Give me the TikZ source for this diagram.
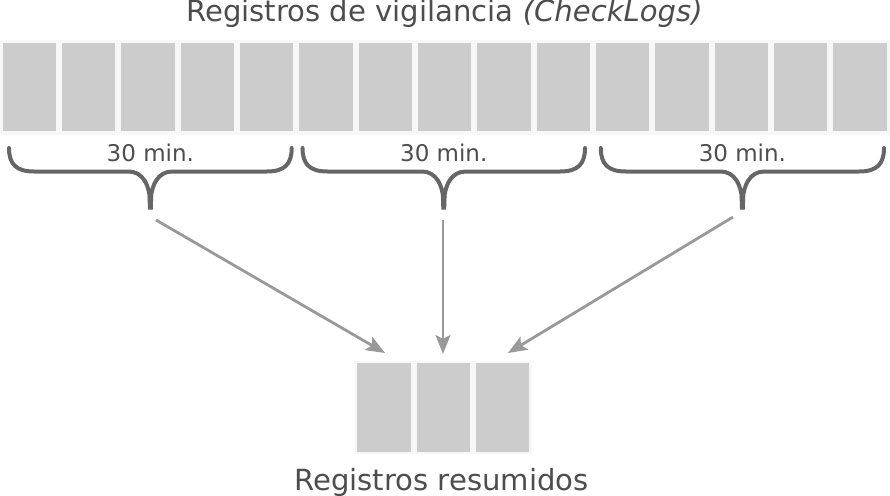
\documentclass[tikz,border=0pt]{standalone}
\usepackage{fontspec}
\setmainfont{DejaVu Sans}
\usetikzlibrary{arrows.meta}
\definecolor{txt}{HTML}{4D4D4D}
\definecolor{boxgray}{HTML}{CCCCCC}
\definecolor{strip}{HTML}{F7F7F7}
\definecolor{bracegray}{HTML}{666666}
\definecolor{arrowgray}{HTML}{999999}
\tikzset{
  logbox/.style={fill=boxgray, draw=none, inner sep=0pt, minimum width=53.3pt, minimum height=88.6pt},
  stripbox/.style={fill=strip, draw=none},
  bigtext/.style={text=txt, font=\fontsize{29.1}{32}\selectfont, inner sep=0pt, anchor=base},
  smalltext/.style={text=txt, font=\fontsize{23}{26}\selectfont, inner sep=0pt, anchor=base},
  bracestroke/.style={draw=bracegray, line width=4pt, line cap=round},
  flowarrow/.style={draw=arrowgray, line width=2.8pt, -{Stealth[length=19pt,width=15pt,inset=4pt]}}
}
\begin{document}
\begin{tikzpicture}[x=1pt,y=-1pt]
\useasboundingbox (0,0) rectangle (890,495);
% title
\node[bigtext] (title) at (444.5,22) {Registros de vigilancia \textit{(CheckLogs)}};
% top strip and boxes
\fill[stripbox] (0,40) rectangle (890,134.5);
\foreach \i in {0,...,14} {
  \node[logbox] (t\i) at ({29.35+59.33*\i},87) {};
}
% braces
\foreach \a/\b/\n in {9/291.7/1, 302.5/585/2, 600.8/884/3} {
  \pgfmathsetmacro{\c}{(\a+\b)/2}
  \draw[bracestroke] (\a,148) .. controls (\a,164) and ({\a+7},171.5) .. ({\a+25},171.5)
     -- ({\c-22},171.5) .. controls ({\c-8},171.5) and (\c,184) .. (\c,207)
     (\c,207) .. controls (\c,184) and ({\c+8},171.5) .. ({\c+22},171.5)
     -- ({\b-25},171.5) .. controls ({\b-7},171.5) and (\b,164) .. (\b,148);
  \fill[bracegray] ({\c-2.8},196) -- ({\c+2.8},196) -- ({\c+2.4},209.5) -- ({\c-2.4},209.5) -- cycle;
  \coordinate (tip\n) at (\c,209);
  \node[smalltext] (lab\n) at (\c,161.5) {30 min.};
}
% bottom strip and boxes
\fill[stripbox] (355,360.7) rectangle (531.7,454);
\node[logbox] (r0) at (384,407.5) {};
\node[logbox] (r1) at (443.3,407.5) {};
\node[logbox] (r2) at (502.7,407.5) {};
\node[bigtext] (sumtitle) at (441.5,490) {Registros resumidos};
% arrow ends
\coordinate (s1) at (156,220);
\coordinate (s2) at (443,220);
\coordinate (s3) at (733,217);
\coordinate (e1) at (385,353);
\coordinate (e2) at (443,354);
\coordinate (e3) at (508,353);
\draw[flowarrow] (s1) -- (e1);
\draw[flowarrow] (s2) -- (e2);
\draw[flowarrow] (s3) -- (e3);
\end{tikzpicture}
\end{document}
